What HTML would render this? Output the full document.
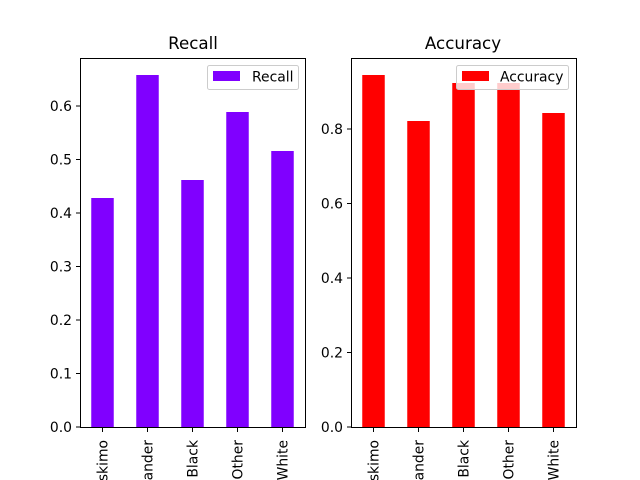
<!DOCTYPE html>
<html><head><style>body{margin:0;background:#fff}svg{display:block;font-family:"DejaVu Sans","Liberation Sans",sans-serif}</style></head><body>
<svg width="640" height="480" viewBox="0 0 640 480" xmlns="http://www.w3.org/2000/svg">
<rect width="640" height="480" fill="#fff"/>
<!-- Left -->
<g fill="#8000ff">
<rect x="91.25" y="198" width="22.5" height="229"/>
<rect x="136.25" y="75" width="22.5" height="352"/>
<rect x="181.25" y="180" width="22.5" height="247"/>
<rect x="226.25" y="112" width="22.5" height="315"/>
<rect x="271.25" y="151" width="22.5" height="276"/>
</g>
<rect x="80.5" y="58.5" width="225" height="369" fill="none" stroke="#000" stroke-width="1"/>
<text x="193" y="49" font-size="16.7" text-anchor="middle">Recall</text>
<g stroke="#000">
<line x1="76" x2="80" y1="427" y2="427"/><line x1="76" x2="80" y1="373.5" y2="373.5"/><line x1="76" x2="80" y1="320" y2="320"/><line x1="76" x2="80" y1="266.5" y2="266.5"/><line x1="76" x2="80" y1="213" y2="213"/><line x1="76" x2="80" y1="159.5" y2="159.5"/><line x1="76" x2="80" y1="106" y2="106"/>
<line x1="102.5" x2="102.5" y1="427" y2="432"/><line x1="147.5" x2="147.5" y1="427" y2="432"/><line x1="192.5" x2="192.5" y1="427" y2="432"/><line x1="237.5" x2="237.5" y1="427" y2="432"/><line x1="282.5" x2="282.5" y1="427" y2="432"/>
</g>
<g font-size="13.9" text-anchor="end">
<text x="72" y="432">0.0</text><text x="72" y="378.5">0.1</text><text x="72" y="325">0.2</text><text x="72" y="271.5">0.3</text><text x="72" y="218">0.4</text><text x="72" y="164.5">0.5</text><text x="72" y="111">0.6</text>
</g>
<g font-size="13.9" text-anchor="end">
<text transform="translate(107.5,440) rotate(-90)">Eskimo</text>
<text transform="translate(152.5,440) rotate(-90)">Islander</text>
<text transform="translate(197.5,440) rotate(-90)">Black</text>
<text transform="translate(242.5,440) rotate(-90)">Other</text>
<text transform="translate(287.5,440) rotate(-90)">White</text>
</g>
<rect x="207.5" y="65.5" width="91" height="24" rx="2" fill="#fff" fill-opacity="0.8" stroke="#ccc"/>
<rect x="213" y="71" width="27" height="10" fill="#8000ff"/>
<text x="252" y="81.5" font-size="13.9">Recall</text>
<!-- Right -->
<g fill="#ff0000">
<rect x="362.25" y="75" width="22.5" height="352"/>
<rect x="407.25" y="121" width="22.5" height="306"/>
<rect x="452.25" y="83" width="22.5" height="344"/>
<rect x="497.25" y="83" width="22.5" height="344"/>
<rect x="542.25" y="113" width="22.5" height="314"/>
</g>
<rect x="351.5" y="58.5" width="225" height="369" fill="none" stroke="#000" stroke-width="1"/>
<text x="463" y="49" font-size="16.7" text-anchor="middle">Accuracy</text>
<rect x="456.5" y="65.5" width="112" height="24" rx="2" fill="#fff" fill-opacity="0.8" stroke="#ccc"/>
<rect x="462" y="71" width="27" height="10" fill="#ff0000"/>
<text x="500" y="81.5" font-size="13.9">Accuracy</text>
<g stroke="#000">
<line x1="347" x2="351" y1="427" y2="427"/><line x1="347" x2="351" y1="352.5" y2="352.5"/><line x1="347" x2="351" y1="278" y2="278"/><line x1="347" x2="351" y1="203.5" y2="203.5"/><line x1="347" x2="351" y1="129" y2="129"/>
<line x1="373.5" x2="373.5" y1="427" y2="432"/><line x1="418.5" x2="418.5" y1="427" y2="432"/><line x1="463.5" x2="463.5" y1="427" y2="432"/><line x1="508.5" x2="508.5" y1="427" y2="432"/><line x1="553.5" x2="553.5" y1="427" y2="432"/>
</g>
<g font-size="13.9" text-anchor="end">
<text x="343" y="432">0.0</text><text x="343" y="357.5">0.2</text><text x="343" y="283">0.4</text><text x="343" y="208.5">0.6</text><text x="343" y="134">0.8</text>
</g>
<g font-size="13.9" text-anchor="end">
<text transform="translate(378.5,440) rotate(-90)">Eskimo</text>
<text transform="translate(423.5,440) rotate(-90)">Islander</text>
<text transform="translate(468.5,440) rotate(-90)">Black</text>
<text transform="translate(513.5,440) rotate(-90)">Other</text>
<text transform="translate(558.5,440) rotate(-90)">White</text>
</g>
</svg>
</body></html>
